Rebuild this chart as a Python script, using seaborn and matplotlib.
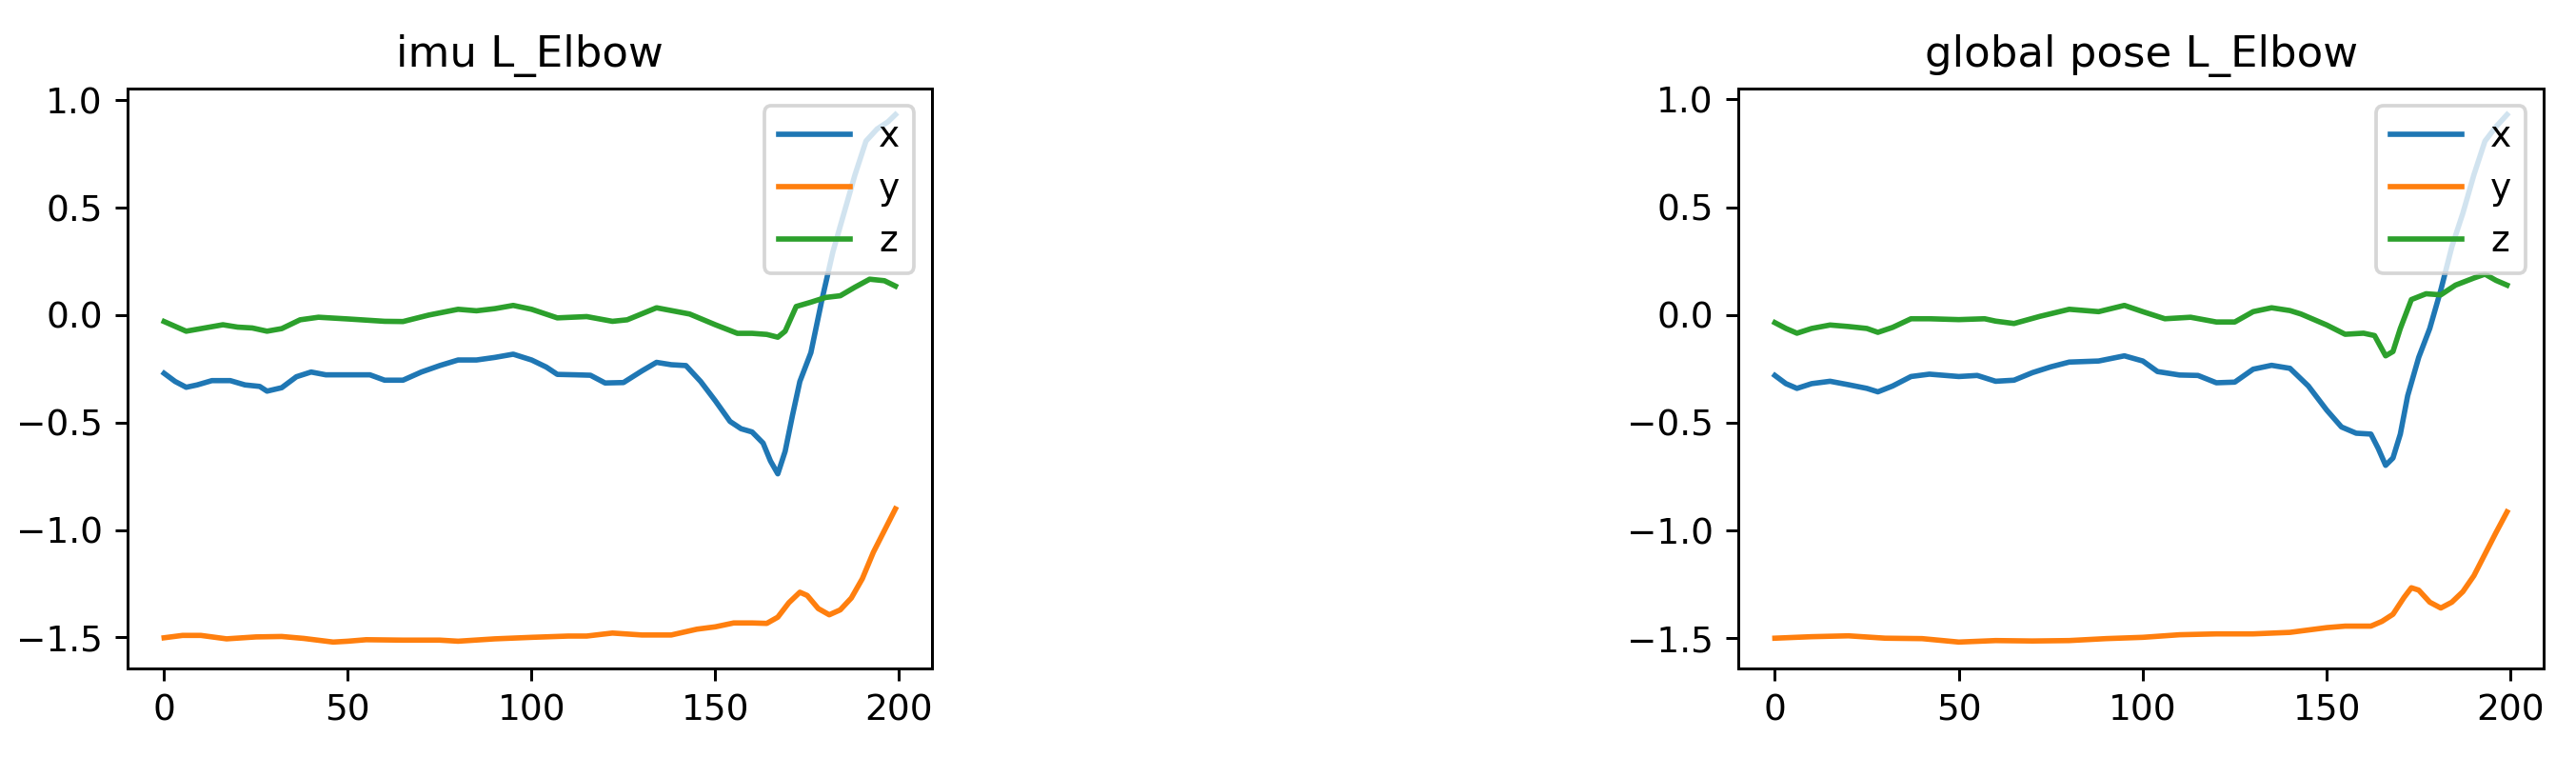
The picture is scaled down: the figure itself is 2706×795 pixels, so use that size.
import matplotlib
matplotlib.use("Agg")
import matplotlib.pyplot as plt
import seaborn as sns
import pandas as pd

# ---------------- data ----------------
titles = ["imu L_Elbow", "global pose L_Elbow"]
series_names = ["x", "y", "z"]

# left panel: imu
imu_x_t = [0, 3, 6, 9, 13, 18, 22, 26, 28, 32, 36, 40, 44, 50, 56, 60, 65, 70, 75, 80, 85, 90, 95,
           100, 104, 107, 112, 116, 120, 125, 130, 134, 138, 142, 146, 150, 154, 157, 160, 163, 165,
           167, 169, 171, 173, 176, 179, 182, 185, 188, 191, 194, 197, 199]
imu_x_v = [-0.271, -0.309, -0.336, -0.325, -0.305, -0.305, -0.325, -0.332, -0.354, -0.338, -0.287,
           -0.265, -0.278, -0.278, -0.278, -0.303, -0.303, -0.265, -0.235, -0.209, -0.209, -0.197,
           -0.182, -0.209, -0.242, -0.276, -0.278, -0.280, -0.316, -0.314, -0.260, -0.220, -0.231,
           -0.235, -0.309, -0.399, -0.495, -0.529, -0.544, -0.596, -0.679, -0.739, -0.634, -0.466,
           -0.309, -0.175, 0.071, 0.295, 0.474, 0.653, 0.810, 0.866, 0.900, 0.933]

imu_y_t = [0, 5, 10, 17, 25, 32, 38, 46, 50, 55, 65, 75, 80, 90, 100, 110, 115, 122, 130, 138, 145,
           150, 155, 160, 164, 167, 170, 173, 175, 178, 181, 184, 187, 190, 193, 196, 199]
imu_y_v = [-1.502, -1.491, -1.491, -1.507, -1.498, -1.496, -1.505, -1.522, -1.518, -1.511, -1.513,
           -1.513, -1.518, -1.507, -1.500, -1.494, -1.494, -1.480, -1.489, -1.489, -1.462, -1.451,
           -1.433, -1.433, -1.435, -1.406, -1.339, -1.290, -1.305, -1.366, -1.395, -1.372, -1.317,
           -1.227, -1.104, -1.003, -0.902]

imu_z_t = [0, 6, 10, 16, 20, 24, 28, 32, 37, 42, 50, 60, 65, 72, 80, 85, 90, 95, 100, 107, 115, 122,
           126, 134, 143, 150, 156, 160, 164, 167, 169, 172, 176, 180, 184, 188, 192, 196, 199]
imu_z_v = [-0.030, -0.075, -0.063, -0.045, -0.056, -0.060, -0.075, -0.063, -0.022, -0.010, -0.018,
           -0.029, -0.030, 0.000, 0.027, 0.020, 0.030, 0.045, 0.027, -0.013, -0.007, -0.029, -0.022,
           0.034, 0.005, -0.045, -0.085, -0.085, -0.090, -0.103, -0.075, 0.040, 0.060, 0.082, 0.090,
           0.130, 0.167, 0.160, 0.135]

# right panel: global pose
gp_x_t = [0, 3, 6, 10, 15, 20, 25, 28, 32, 37, 42, 50, 55, 60, 65, 70, 75, 80, 88, 95, 100, 104,
          110, 115, 120, 125, 130, 135, 140, 145, 150, 154, 158, 162, 164, 166, 168, 170, 172, 175,
          178, 181, 184, 187, 190, 193, 196, 199]
gp_x_v = [-0.281, -0.319, -0.341, -0.319, -0.308, -0.324, -0.341, -0.357, -0.330, -0.286, -0.275,
          -0.286, -0.281, -0.308, -0.303, -0.268, -0.241, -0.219, -0.214, -0.190, -0.214, -0.263,
          -0.279, -0.281, -0.315, -0.312, -0.252, -0.234, -0.248, -0.330, -0.442, -0.520, -0.549,
          -0.553, -0.620, -0.698, -0.664, -0.553, -0.375, -0.197, -0.063, 0.115, 0.316, 0.472,
          0.650, 0.806, 0.873, 0.929]

gp_y_t = [0, 10, 20, 30, 40, 50, 60, 70, 80, 90, 100, 110, 120, 130, 140, 150, 155, 162, 165, 168,
          171, 173, 175, 178, 181, 184, 187, 190, 193, 196, 199]
gp_y_v = [-1.500, -1.493, -1.489, -1.500, -1.502, -1.518, -1.511, -1.513, -1.511, -1.502, -1.496,
          -1.484, -1.480, -1.480, -1.473, -1.451, -1.444, -1.444, -1.422, -1.389, -1.311, -1.266,
          -1.277, -1.333, -1.360, -1.333, -1.284, -1.210, -1.110, -1.010, -0.914]

gp_z_t = [0, 3, 6, 10, 15, 20, 25, 28, 32, 37, 42, 50, 57, 60, 65, 72, 80, 88, 95, 100, 106, 113,
          120, 125, 130, 135, 140, 143, 150, 155, 160, 163, 166, 168, 170, 173, 177, 181, 185, 190,
          193, 196, 199]
gp_z_v = [-0.036, -0.063, -0.085, -0.063, -0.047, -0.054, -0.063, -0.081, -0.058, -0.018, -0.018,
          -0.022, -0.018, -0.029, -0.040, -0.007, 0.026, 0.015, 0.044, 0.015, -0.018, -0.011,
          -0.033, -0.033, 0.015, 0.033, 0.020, 0.004, -0.047, -0.090, -0.085, -0.096, -0.190,
          -0.170, -0.063, 0.071, 0.098, 0.093, 0.138, 0.171, 0.189, 0.160, 0.138]

panels = [
    [(imu_x_t, imu_x_v), (imu_y_t, imu_y_v), (imu_z_t, imu_z_v)],
    [(gp_x_t, gp_x_v), (gp_y_t, gp_y_v), (gp_z_t, gp_z_v)],
]

# ---------------- figure ----------------
DPI = 270
fig = plt.figure(figsize=(2706 / DPI, 795 / DPI), dpi=DPI)
positions = [
    [134 / 2706, 1 - 702 / 795, 845 / 2706, (702 - 92.7) / 795],
    [1826 / 2706, 1 - 702 / 795, 846 / 2706, (702 - 92.7) / 795],
]
colors = ["#1f77b4", "#ff7f0e", "#2ca02c"]

for pos, title, panel in zip(positions, titles, panels):
    ax = fig.add_axes(pos)
    for name, color, (t, v) in zip(series_names, colors, panel):
        df = pd.DataFrame({"frame": t, "value": v})
        sns.lineplot(data=df, x="frame", y="value", ax=ax, color=color, label=name,
                     linewidth=1.5)
    ax.set_title(title, fontsize=12)
    ax.set_xlabel("")
    ax.set_ylabel("")
    ax.set_xticks([0, 50, 100, 150, 200])
    ax.set_yticks([-1.5, -1.0, -0.5, 0.0, 0.5, 1.0])
    ax.legend(loc="upper right")

fig.savefig("out.png", dpi=DPI)
